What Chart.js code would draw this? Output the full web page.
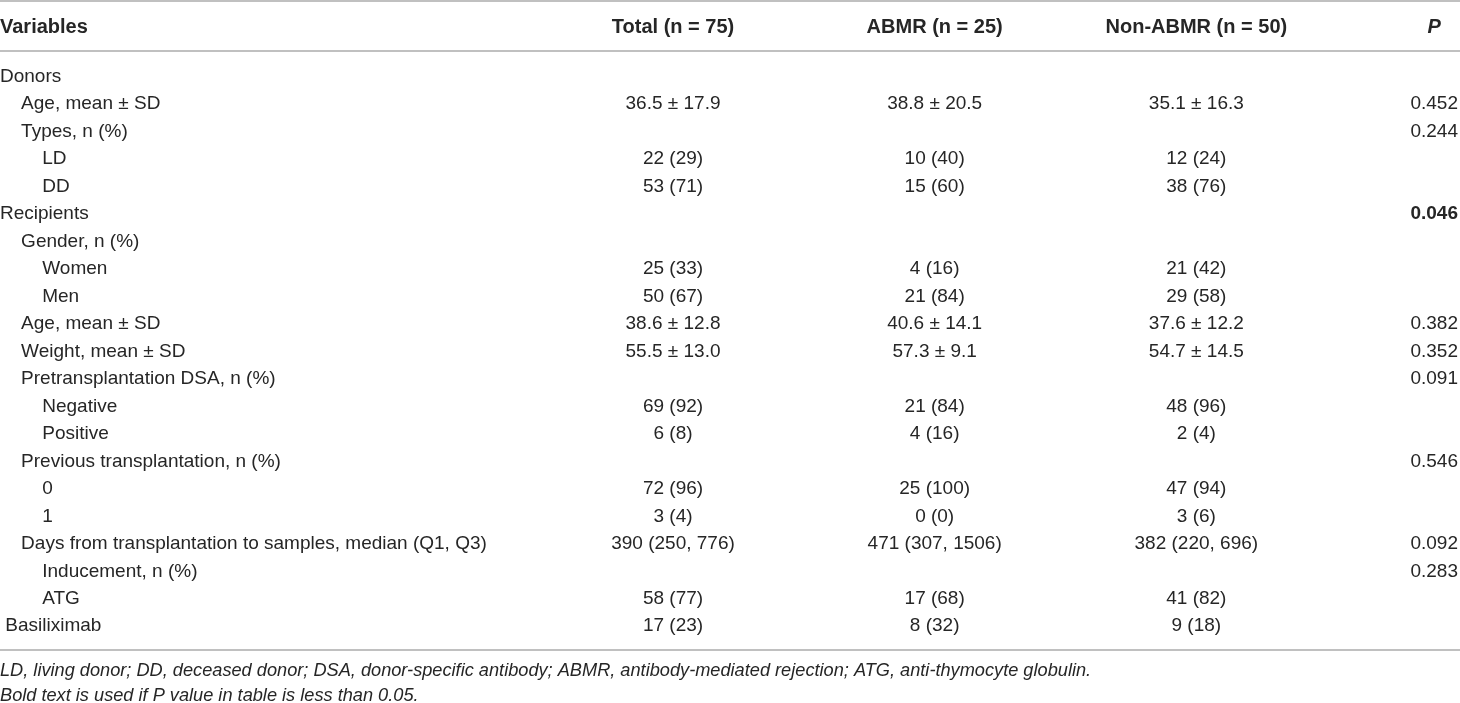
<!DOCTYPE html>
<html>
<head>
<meta charset="utf-8">
<script src="https://cdn.jsdelivr.net/npm/chart.js@4.4.1/dist/chart.umd.min.js"></script>
<style>
  html, body { margin: 0; padding: 0; background: #fff; overflow: hidden; }
  #wrap { width: 1460px; height: 703px; position: relative; }
</style>
</head>
<body>
<div id="wrap"><canvas id="c"></canvas></div>
<script>
// ---------- table content ----------
const variablesHeader = 'Variables';
const columnHeaders = ['Total (n = 75)', 'ABMR (n = 25)', 'Non-ABMR (n = 50)', 'P'];

const variableLabels = [
  'Donors',
  '    Age, mean ± SD',
  '    Types, n (%)',
  '        LD',
  '        DD',
  'Recipients',
  '    Gender, n (%)',
  '        Women',
  '        Men',
  '    Age, mean ± SD',
  '    Weight, mean ± SD',
  '    Pretransplantation DSA, n (%)',
  '        Negative',
  '        Positive',
  '    Previous transplantation, n (%)',
  '        0',
  '        1',
  '    Days from transplantation to samples, median (Q1, Q3)',
  '        Inducement, n (%)',
  '        ATG',
  ' Basiliximab'
];

const totalValues = ['', '36.5 ± 17.9', '', '22 (29)', '53 (71)', '', '', '25 (33)', '50 (67)', '38.6 ± 12.8', '55.5 ± 13.0', '', '69 (92)', '6 (8)', '', '72 (96)', '3 (4)', '390 (250, 776)', '', '58 (77)', '17 (23)'];
const abmrValues = ['', '38.8 ± 20.5', '', '10 (40)', '15 (60)', '', '', '4 (16)', '21 (84)', '40.6 ± 14.1', '57.3 ± 9.1', '', '21 (84)', '4 (16)', '', '25 (100)', '0 (0)', '471 (307, 1506)', '', '17 (68)', '8 (32)'];
const nonAbmrValues = ['', '35.1 ± 16.3', '', '12 (24)', '38 (76)', '', '', '21 (42)', '29 (58)', '37.6 ± 12.2', '54.7 ± 14.5', '', '48 (96)', '2 (4)', '', '47 (94)', '3 (6)', '382 (220, 696)', '', '41 (82)', '9 (18)'];
const pValues = ['', '0.452', '0.244', '', '', '0.046', '', '', '', '0.382', '0.352', '0.091', '', '', '0.546', '', '', '0.092', '0.283', '', ''];

const footnotes = [
  'LD, living donor; DD, deceased donor; DSA, donor-specific antibody; ABMR, antibody-mediated rejection; ATG, anti-thymocyte globulin.',
  'Bold text is used if P value in table is less than 0.05.'
];

const valueColumns = [totalValues, abmrValues, nonAbmrValues, pValues];

// ---------- styling ----------
const FONT = "'Liberation Sans', Arial, Helvetica, sans-serif";
const TEXT = '#262626';
const RULE = '#ababab';
const SIZE = 19;
const BOLD_SIZE = 20;
const NOTE_SIZE = 18.2;

const tablePlugin = {
  id: 'tableText',
  afterDatasetsDraw(chart) {
    const { ctx, chartArea, scales } = chart;
    const xs = scales.x, ys = scales.y;
    ctx.save();
    // horizontal rules
    ctx.strokeStyle = RULE;
    ctx.lineWidth = 1.6;
    [chartArea.top - 62, chartArea.top - 12, chartArea.bottom + 10].forEach(yy => {
      ctx.beginPath();
      ctx.moveTo(0, yy);
      ctx.lineTo(chart.width, yy);
      ctx.stroke();
    });
    // width of P value column (for centring its header)
    ctx.font = SIZE + 'px ' + FONT;
    const pWidth = Math.max(...pValues.filter(v => v !== '').map(v => ctx.measureText(v).width));
    // header row
    const headY = chartArea.top - 36;
    ctx.fillStyle = TEXT;
    ctx.textBaseline = 'middle';
    ctx.font = 'bold ' + BOLD_SIZE + 'px ' + FONT;
    ctx.textAlign = 'left';
    ctx.fillText(variablesHeader, ys.left, headY);
    const lastCol = columnHeaders.length - 1;
    columnHeaders.forEach((h, i) => {
      ctx.font = (i === lastCol ? 'italic bold ' : 'bold ') + BOLD_SIZE + 'px ' + FONT;
      ctx.textAlign = 'center';
      const px = xs.getPixelForValue(i);
      ctx.fillText(h, i === lastCol ? px - pWidth / 2 : px, headY);
    });
    // body cells
    chart.data.datasets.forEach((ds, di) => {
      const meta = chart.getDatasetMeta(di);
      const col = valueColumns[di];
      meta.data.forEach((pt, k) => {
        const txt = col[k];
        if (!txt || pt.skip || !isFinite(pt.x) || !isFinite(pt.y)) return;
        const isP = di === lastCol;
        const bold = isP && parseFloat(txt) < 0.05;
        ctx.font = (bold ? 'bold ' : '') + SIZE + 'px ' + FONT;
        ctx.textAlign = isP ? 'right' : 'center';
        ctx.fillText(txt, pt.x, pt.y);
      });
    });
    ctx.restore();
  }
};

new Chart(document.getElementById('c'), {
  type: 'line',
  data: {
    labels: variableLabels,
    datasets: valueColumns.map((col, ci) => ({
      label: columnHeaders[ci],
      data: col.map(t => (t === '' ? null : ci)),
      showLine: false,
      pointRadius: 0,
      pointHoverRadius: 0,
      borderWidth: 0
    }))
  },
  options: {
    indexAxis: 'y',
    responsive: true,
    maintainAspectRatio: false,
    animation: false,
    events: [],
    layout: { padding: { top: 63, right: 2, bottom: 0, left: 0 } },
    scales: {
      x: {
        type: 'linear',
        min: 0,
        max: columnHeaders.length - 1,
        display: false
      },
      y: {
        type: 'category',
        offset: true,
        grid: { display: false, drawTicks: false },
        border: { display: false },
        ticks: {
          autoSkip: false,
          crossAlign: 'far',
          padding: 0,
          color: TEXT,
          font: { family: FONT, size: SIZE }
        },
        afterFit: s => { s.width = 673; }
      }
    },
    plugins: {
      legend: { display: false },
      tooltip: { enabled: false },
      title: {
        display: true,
        position: 'bottom',
        align: 'start',
        text: footnotes,
        color: TEXT,
        font: { family: FONT, size: NOTE_SIZE, style: 'italic', weight: 'normal', lineHeight: 25.5 / NOTE_SIZE },
        padding: { top: 18, bottom: -6 }
      }
    }
  },
  plugins: [tablePlugin]
});
</script>
</body>
</html>
